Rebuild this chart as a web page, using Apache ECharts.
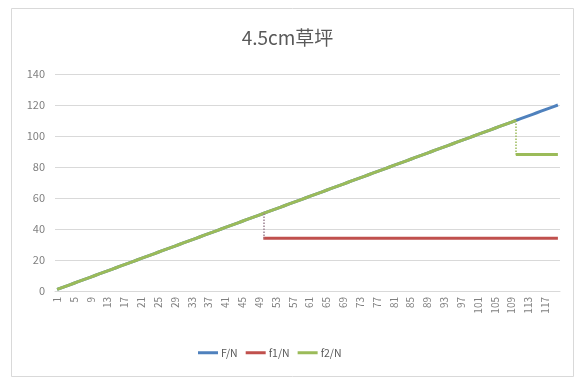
<!DOCTYPE html>
<html>
<head>
<meta charset="utf-8">
<script src="https://cdn.jsdelivr.net/npm/echarts@6/dist/echarts.min.js"></script>
<style>
html,body{margin:0;padding:0;background:#fff;}
#chart{width:575px;height:378px;}
</style>
</head>
<body>
<div id="chart"></div>
<script>
const titleText = '4.5cm草坪';
const categories = [
  '1','2','3','4','5','6','7','8','9','10','11','12','13','14','15','16','17','18','19','20',
  '21','22','23','24','25','26','27','28','29','30','31','32','33','34','35','36','37','38','39','40',
  '41','42','43','44','45','46','47','48','49','50','51','52','53','54','55','56','57','58','59','60',
  '61','62','63','64','65','66','67','68','69','70','71','72','73','74','75','76','77','78','79','80',
  '81','82','83','84','85','86','87','88','89','90','91','92','93','94','95','96','97','98','99','100',
  '101','102','103','104','105','106','107','108','109','110','111','112','113','114','115','116','117','118','119','120'
];
const seriesNames = ['F/N', 'f1/N', 'f2/N'];
const F = [
  1,2,3,4,5,6,7,8,9,10,11,12,13,14,15,16,17,18,19,20,
  21,22,23,24,25,26,27,28,29,30,31,32,33,34,35,36,37,38,39,40,
  41,42,43,44,45,46,47,48,49,50,51,52,53,54,55,56,57,58,59,60,
  61,62,63,64,65,66,67,68,69,70,71,72,73,74,75,76,77,78,79,80,
  81,82,83,84,85,86,87,88,89,90,91,92,93,94,95,96,97,98,99,100,
  101,102,103,104,105,106,107,108,109,110,111,112,113,114,115,116,117,118,119,120
];
const f1 = [
  null,null,null,null,null,null,null,null,null,null,null,null,null,null,null,null,null,null,null,null,
  null,null,null,null,null,null,null,null,null,null,null,null,null,null,null,null,null,null,null,null,
  null,null,null,null,null,null,null,null,null,34,34,34,34,34,34,34,34,34,34,34,
  34,34,34,34,34,34,34,34,34,34,34,34,34,34,34,34,34,34,34,34,
  34,34,34,34,34,34,34,34,34,34,34,34,34,34,34,34,34,34,34,34,
  34,34,34,34,34,34,34,34,34,34,34,34,34,34,34,34,34,34,34,34
];
const f2Rise = [
  1,2,3,4,5,6,7,8,9,10,11,12,13,14,15,16,17,18,19,20,
  21,22,23,24,25,26,27,28,29,30,31,32,33,34,35,36,37,38,39,40,
  41,42,43,44,45,46,47,48,49,50,51,52,53,54,55,56,57,58,59,60,
  61,62,63,64,65,66,67,68,69,70,71,72,73,74,75,76,77,78,79,80,
  81,82,83,84,85,86,87,88,89,90,91,92,93,94,95,96,97,98,99,100,
  101,102,103,104,105,106,107,108,109,110,null,null,null,null,null,null,null,null,null,null
];
const f2Flat = [
  null,null,null,null,null,null,null,null,null,null,null,null,null,null,null,null,null,null,null,null,
  null,null,null,null,null,null,null,null,null,null,null,null,null,null,null,null,null,null,null,null,
  null,null,null,null,null,null,null,null,null,null,null,null,null,null,null,null,null,null,null,null,
  null,null,null,null,null,null,null,null,null,null,null,null,null,null,null,null,null,null,null,null,
  null,null,null,null,null,null,null,null,null,null,null,null,null,null,null,null,null,null,null,null,
  null,null,null,null,null,null,null,null,null,88,88,88,88,88,88,88,88,88,88,88
];
const yTicks = [0, 20, 40, 60, 80, 100, 120, 140];
const f1Break = ['50', 50, 34];
const f2Break = ['110', 110, 88];

const colors = ['#4F81BD', '#C0504D', '#9BBB59'];
const font = '"Noto Sans CJK SC", "Noto Sans", sans-serif';

const chart = echarts.init(document.getElementById('chart'), null, {renderer: 'canvas'});
chart.setOption({
  animation: false,
  backgroundColor: '#ffffff',
  textStyle: {fontFamily: font},
  graphic: [{
    type: 'rect', silent: true,
    shape: {x: 11.5, y: 8.5, width: 562, height: 368},
    style: {fill: 'none', stroke: '#d9d9d9', lineWidth: 1}
  }],
  title: {
    text: titleText, left: 'center', top: 23,
    textStyle: {fontSize: 19, fontWeight: 'normal', color: '#595959', fontFamily: font}
  },
  legend: {
    bottom: 15, left: 193,
    data: seriesNames,
    icon: 'rect', itemWidth: 20, itemHeight: 3, itemGap: 8,
    textStyle: {fontSize: 10.5, color: '#595959', fontFamily: font, padding: [0, 0, 0, -2]}
  },
  grid: {left: 55, right: 15, top: 74, bottom: 87, containLabel: false},
  xAxis: {
    type: 'category', data: categories, boundaryGap: true,
    axisLine: {lineStyle: {color: '#d9d9d9'}},
    axisTick: {show: false},
    axisLabel: {interval: 3, rotate: 90, fontSize: 10, color: '#7f7f7f', margin: 6, fontFamily: font}
  },
  yAxis: {
    type: 'value', min: yTicks[0], max: yTicks[yTicks.length - 1], interval: 20,
    axisLine: {show: false}, axisTick: {show: false},
    splitLine: {lineStyle: {color: '#d9d9d9'}},
    axisLabel: {fontSize: 11, color: '#7f7f7f', margin: 10, fontFamily: font}
  },
  series: [
    {name: seriesNames[0], type: 'line', data: F, color: colors[0], showSymbol: false,
     lineStyle: {width: 3, color: colors[0]}, z: 2},
    {name: seriesNames[1], type: 'line', data: f1, color: colors[1], showSymbol: false,
     lineStyle: {width: 3, color: colors[1]}, z: 3,
     markLine: {silent: true, symbol: 'none', label: {show: false},
       lineStyle: {type: 'dotted', color: '#9a8090', width: 1.5},
       data: [[{coord: [f1Break[0], f1Break[1]]}, {coord: [f1Break[0], f1Break[2]]}]]}},
    {name: seriesNames[2], type: 'line', data: f2Rise, color: colors[2], showSymbol: false,
     lineStyle: {width: 3, color: colors[2]}, z: 4,
     markLine: {silent: true, symbol: 'none', label: {show: false},
       lineStyle: {type: 'dotted', color: colors[2], width: 1.5},
       data: [[{coord: [f2Break[0], f2Break[1]]}, {coord: [f2Break[0], f2Break[2]]}]]}},
    {name: seriesNames[2], type: 'line', data: f2Flat, color: colors[2], showSymbol: false,
     lineStyle: {width: 3, color: colors[2]}, z: 4}
  ]
});
</script>
</body>
</html>
